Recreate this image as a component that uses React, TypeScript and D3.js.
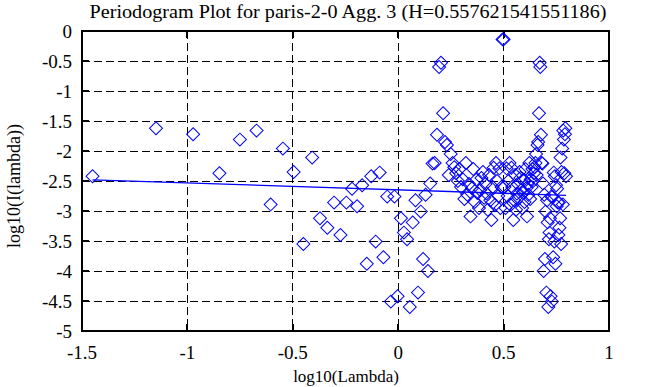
import React from 'react';
import * as d3 from 'd3';

const title = 'Periodogram Plot for paris-2-0 Agg. 3 (H=0.557621541551186)';
const xLabel = 'log10(Lambda)';
const yLabel = 'log10(I(lambda))';

const logLambda = [
  -1.450,-1.149,-0.973,-0.848,-0.751,-0.672,-0.605,-0.547,-0.496,-0.450,
  -0.408,-0.371,-0.336,-0.304,-0.274,-0.246,-0.219,-0.195,-0.171,-0.149,
  -0.128,-0.107,-0.088,-0.070,-0.052,-0.035,-0.018,-0.003,0.013,0.027,
  0.042,0.055,0.069,0.082,0.094,0.107,0.118,0.130,0.141,0.152,
  0.163,0.173,0.184,0.194,0.203,0.213,0.222,0.231,0.240,0.249,
  0.258,0.266,0.275,0.283,0.291,0.298,0.306,0.314,0.321,0.328,
  0.336,0.343,0.350,0.356,0.363,0.370,0.376,0.383,0.389,0.395,
  0.402,0.408,0.414,0.419,0.425,0.431,0.437,0.442,0.448,0.453,
  0.459,0.464,0.469,0.475,0.480,0.485,0.490,0.495,0.500,0.504,
  0.509,0.514,0.519,0.523,0.528,0.533,0.537,0.541,0.546,0.550,
  0.555,0.559,0.563,0.567,0.571,0.576,0.580,0.584,0.588,0.592,
  0.596,0.599,0.603,0.607,0.611,0.615,0.618,0.622,0.626,0.629,
  0.633,0.637,0.640,0.644,0.647,0.651,0.654,0.657,0.661,0.664,
  0.668,0.671,0.674,0.677,0.681,0.684,0.687,0.690,0.693,0.696,
  0.699,0.703,0.706,0.709,0.712,0.715,0.718,0.720,0.723,0.726,
  0.729,0.732,0.735,0.738,0.741,0.743,0.746,0.749,0.752,0.754,
  0.757,0.760,0.762,0.765,0.768,0.770,0.773,0.775,0.778,0.781,
  0.783,0.786,0.788,0.791,0.793,0.796,
];

const logI = [
  -2.42,-1.62,-1.72,-2.37,-1.81,-1.66,-2.89,-1.96,-2.35,-3.55,
  -2.11,-3.12,-3.28,-2.86,-3.40,-2.86,-2.63,-2.92,-2.57,-3.88,
  -2.42,-3.51,-2.36,-3.77,-2.76,-4.51,-2.76,-4.42,-3.12,-3.36,
  -3.47,-4.60,-3.19,-2.82,-4.36,-3.01,-3.80,-2.73,-4.00,-2.54,
  -2.21,-2.20,-1.73,-0.60,-0.53,-1.37,-1.85,-1.90,-2.40,-2.05,
  -2.20,-2.27,-2.37,-2.50,-2.30,-2.60,-2.47,-2.80,-2.20,-2.73,
  -2.55,-3.09,-2.62,-2.30,-2.85,-2.48,-2.70,-2.95,-2.65,-2.45,
  -2.35,-2.78,-2.55,-2.71,-2.98,-2.40,-2.82,-3.15,-2.60,-2.28,
  -2.90,-2.20,-2.50,-2.75,-2.29,-2.95,-2.60,-0.14,
  -0.14,-2.60,-2.95,-2.29,-2.75,-2.50,-2.20,-2.90,
  -2.28,-2.60,-3.15,-2.82,-2.40,-2.98,-2.71,-2.55,-2.78,-2.35,
  -2.45,-2.65,-2.95,-2.70,-2.48,-2.85,-2.30,-2.62,-3.09,-2.55,
  -2.73,-2.20,-2.80,-2.47,-2.60,-2.30,-2.50,-2.37,-2.27,-2.20,
  -2.05,-2.40,-1.90,-1.85,-1.37,-0.53,-0.60,-1.73,-2.20,-2.21,
  -2.54,-4.00,-2.73,-3.80,-3.01,-4.36,-2.82,-3.19,-4.60,-3.47,
  -3.36,-3.12,-4.42,-2.76,-4.51,-2.76,-3.77,-2.36,-3.51,-2.42,
  -3.88,-2.57,-2.92,-2.63,-2.86,-3.40,-2.86,-3.28,-3.12,-2.11,
  -3.55,-2.35,-1.96,-2.89,-1.66,-1.81,-2.37,-1.72,-1.62,-2.42,
];

const fitIntercept = -2.647;
const fitSlope = -0.1152;

const xTicks = [-1.5, -1, -0.5, 0, 0.5, 1];
const xTickLabels = ['-1.5', '-1', '-0.5', '0', '0.5', '1'];
const yTicks = [0, -0.5, -1, -1.5, -2, -2.5, -3, -3.5, -4, -4.5, -5];
const yTickLabels = ['0', '-0.5', '-1', '-1.5', '-2', '-2.5', '-3', '-3.5', '-4', '-4.5', '-5'];

const W = 647;
const H = 387;
const L = 82, R = 609, T = 31, B = 331;
const FONT = 'Liberation Serif, Times New Roman, serif';
const BLUE = '#0000ff';

export default function App() {
  const x = d3.scaleLinear().domain([-1.5, 1]).range([L, R]);
  const y = d3.scaleLinear().domain([-5, 0]).range([B, T]);
  const diamond = d3.symbol().type(d3.symbolSquare).size(84)();
  const xMin = d3.min(logLambda) as number;
  const xMax = d3.max(logLambda) as number;
  const fitLine = d3.line<number>()
    .x((d) => x(d))
    .y((d) => y(fitIntercept + fitSlope * d))([xMin, xMax]);
  const tickLen = 7;

  return (
    <svg width={W} height={H} style={{ position: 'absolute', left: 0, top: 0, background: '#fff' }}>
      <rect x={0} y={0} width={W} height={H} fill="#fff" />
      {/* grid */}
      <g stroke="#000" strokeWidth={1} strokeDasharray="8,4" shapeRendering="crispEdges">
        {xTicks.slice(1, -1).map((t) => (
          <line key={'gx' + t} x1={x(t)} x2={x(t)} y1={T} y2={B} />
        ))}
        {yTicks.slice(1, -1).map((t) => (
          <line key={'gy' + t} x1={L} x2={R} y1={y(t)} y2={y(t)} />
        ))}
      </g>
      {/* ticks */}
      <g stroke="#000" strokeWidth={2} shapeRendering="crispEdges">
        {xTicks.map((t) => (
          <g key={'tx' + t}>
            <line x1={x(t)} x2={x(t)} y1={B} y2={B - tickLen} />
            <line x1={x(t)} x2={x(t)} y1={T} y2={T + tickLen} />
          </g>
        ))}
        {yTicks.map((t) => (
          <g key={'ty' + t}>
            <line x1={L} x2={L + tickLen} y1={y(t)} y2={y(t)} />
            <line x1={R} x2={R - tickLen} y1={y(t)} y2={y(t)} />
          </g>
        ))}
      </g>
      {/* points */}
      <g fill="none" stroke={BLUE} strokeWidth={1}>
        {logLambda.map((lx, i) => (
          <path
            key={'p' + i}
            d={diamond}
            transform={`translate(${x(lx)},${y(logI[i])}) rotate(45)`}
          />
        ))}
      </g>
      {/* fit */}
      <path d={fitLine || ''} fill="none" stroke={BLUE} strokeWidth={1.3} />
      {/* frame */}
      <rect x={L} y={T} width={R - L} height={B - T} fill="none" stroke="#000" strokeWidth={2} shapeRendering="crispEdges" />
      {/* tick labels */}
      <g fontFamily={FONT} fontSize={19} fill="#000">
        {yTicks.map((t, i) => (
          <text key={'ly' + t} x={L - 10} y={y(t)} dy="0.35em" textAnchor="end">
            {yTickLabels[i]}
          </text>
        ))}
        {xTicks.map((t, i) => (
          <text key={'lx' + t} x={x(t)} y={B + 28} textAnchor="middle">
            {xTickLabels[i]}
          </text>
        ))}
      </g>
      <g fontFamily={FONT} fill="#000">
        <text x={346} y={382} textAnchor="middle" fontSize={17}>{xLabel}</text>
        <text transform={`translate(20,186) rotate(-90)`} textAnchor="middle" fontSize={18}>{yLabel}</text>
      </g>
      <text x={348} y={18} textAnchor="middle" fontFamily={FONT} fontSize={19} fill="#000" textLength={517} lengthAdjust="spacingAndGlyphs">
        {title}
      </text>
    </svg>
  );
}
